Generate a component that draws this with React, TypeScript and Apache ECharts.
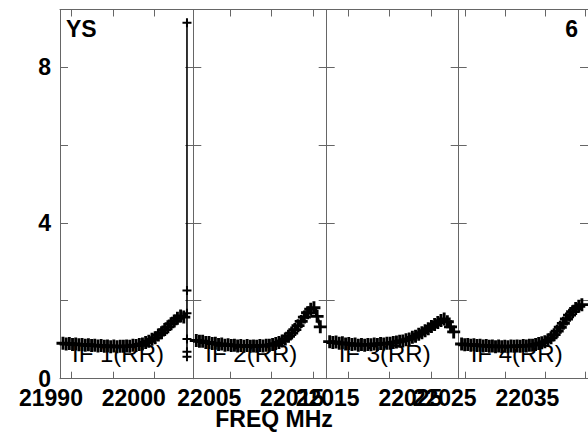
import React, { useEffect, useRef } from "react";
import * as echarts from "echarts";

// ---------- data ----------
const IF_NAMES = ["IF 1(RR)", "IF 2(RR)", "IF 3(RR)", "IF 4(RR)"];
const IF_START_MHZ = [21991.09, 22003.07, 22014.89, 22026.7];
const IF_END_MHZ = [22007.19, 22019.18, 22030.83, 22042.8];
const CHAN0_OFFSET_MHZ = 0.36;
const CHAN_WIDTH_MHZ = 0.384;

const AMP_IF1 = [
  0.91, 0.89, 0.9, 0.88, 0.89, 0.87, 0.88, 0.86, 0.87, 0.85, 0.86, 0.84, 0.85,
  0.83, 0.84, 0.82, 0.84, 0.82, 0.83, 0.83, 0.84, 0.83, 0.86, 0.85, 0.88, 0.89,
  0.93, 0.96, 1.01, 1.05, 1.12, 1.18, 1.26, 1.33, 1.41, 1.48, 1.55, 1.61, 1.58,
];
// last channel of IF 1: scattered values (edge channel)
const SPIKE_IF1 = [1.68, 9.13, 0.56, 2.26, 1.02, 0.69];
const AMP_IF2 = [
  0.98, 0.96, 0.96, 0.93, 0.93, 0.9, 0.91, 0.88, 0.89, 0.86, 0.87, 0.85, 0.86,
  0.84, 0.85, 0.83, 0.85, 0.83, 0.84, 0.83, 0.85, 0.84, 0.86, 0.86, 0.88, 0.9,
  0.93, 0.97, 1.02, 1.09, 1.17, 1.26, 1.36, 1.47, 1.58, 1.69, 1.78, 1.82, 1.6,
  1.33,
];
const AMP_IF3 = [
  0.95, 0.93, 0.94, 0.91, 0.92, 0.89, 0.9, 0.88, 0.89, 0.86, 0.88, 0.86, 0.88,
  0.87, 0.89, 0.88, 0.9, 0.89, 0.91, 0.91, 0.93, 0.94, 0.96, 0.97, 1.0, 1.02,
  1.06, 1.09, 1.14, 1.18, 1.23, 1.28, 1.34, 1.39, 1.44, 1.49, 1.53, 1.46, 1.33,
  1.2,
];
const AMP_IF4 = [
  0.89, 0.87, 0.88, 0.86, 0.87, 0.85, 0.86, 0.84, 0.85, 0.83, 0.84, 0.82, 0.84,
  0.82, 0.83, 0.82, 0.84, 0.83, 0.84, 0.83, 0.85, 0.84, 0.86, 0.86, 0.88, 0.9,
  0.92, 0.95, 0.99, 1.05, 1.13, 1.22, 1.32, 1.42, 1.53, 1.63, 1.72, 1.8, 1.86,
  1.9,
];

const X_LABELS = [
  [21990, 22000],
  [22005, 22015],
  [22015, 22025],
  [22025, 22035],
];
const X_TICKS = [
  [21992.5, 21997.5, 22002.5],
  [22007.5, 22012.5, 22017.5],
  [22017.5, 22022.5, 22027.5],
  [22027.5, 22032.5, 22037.5, 22042.5],
];
const Y_MAX = 9.47;
const Y_TICKS = [0, 2, 4, 6, 8];
const Y_LABELS = [0, 4, 8];
const SOURCE_NAME = "YS";
const PAGE_NO = "6";
const X_TITLE = "FREQ MHz";

// ---------- layout ----------
const W = 588;
const H = 432;
const PANEL_LEFT = [60, 193.3, 326.7, 458.7];
const PANEL_W = [133.3, 133.4, 132, 133.3];
const TOP = 9.5;
const PH = 369.2;
const FRAME = "#666666";
const FONT = "Liberation Sans, Arial, Helvetica, sans-serif";
const PLUS = "path://M3.5,0H5.5V3.5H9V5.5H5.5V9H3.5V5.5H0V3.5H3.5Z";

function buildOption() {
  const grid: any[] = [];
  const xAxis: any[] = [];
  const yAxis: any[] = [];
  const series: any[] = [];
  const graphic: any[] = [];
  const amps = [AMP_IF1, AMP_IF2, AMP_IF3, AMP_IF4];

  for (let p = 0; p < 4; p++) {
    const start = IF_START_MHZ[p];
    const end = IF_END_MHZ[p];
    const ppm = PANEL_W[p] / (end - start);
    const gi = grid.length;
    grid.push({ left: PANEL_LEFT[p], top: TOP, width: PANEL_W[p], height: PH, show: false });
    const lgi = grid.length;
    const [l1, l2] = X_LABELS[p];
    grid.push({
      left: PANEL_LEFT[p] + (l1 - start) * ppm,
      top: TOP,
      width: (l2 - l1) * ppm,
      height: PH,
      show: false,
    });

    const axisLine = { show: true, onZero: false, lineStyle: { color: FRAME, width: 1 } };
    const xb = xAxis.length;
    xAxis.push({
      type: "value",
      gridIndex: gi,
      position: "bottom",
      min: start,
      max: end,
      axisLine,
      axisTick: { show: true, inside: true, length: 7, customValues: X_TICKS[p], lineStyle: { color: FRAME, width: 1 } },
      axisLabel: { show: false },
      splitLine: { show: false },
    });
    xAxis.push({
      type: "value",
      gridIndex: gi,
      position: "top",
      min: start,
      max: end,
      axisLine,
      axisTick: { show: true, inside: true, length: 7, customValues: X_TICKS[p], lineStyle: { color: FRAME, width: 1 } },
      axisLabel: { show: false },
      splitLine: { show: false },
    });
    xAxis.push({
      type: "value",
      gridIndex: lgi,
      position: "bottom",
      min: l1,
      max: l2,
      interval: l2 - l1,
      axisLine: { show: false },
      axisTick: { show: false },
      splitLine: { show: false },
      axisLabel: {
        show: true,
        showMinLabel: true,
        showMaxLabel: true,
        margin: 8,
        color: "#000",
        fontFamily: FONT,
        fontWeight: "bold",
        fontSize: 23,
        formatter: (v: number) => String(v),
      },
    });

    const yl = yAxis.length;
    yAxis.push({
      type: "value",
      gridIndex: gi,
      position: "left",
      min: 0,
      max: Y_MAX,
      axisLine,
      axisTick: { show: true, inside: true, length: 8, customValues: Y_TICKS, lineStyle: { color: FRAME, width: 1 } },
      axisLabel:
        p === 0
          ? {
              show: true,
              customValues: Y_LABELS,
              margin: 9,
              color: "#000",
              fontFamily: FONT,
              fontWeight: "bold",
              fontSize: 23,
            }
          : { show: false },
      splitLine: { show: false },
    });
    yAxis.push({
      type: "value",
      gridIndex: gi,
      position: "right",
      min: 0,
      max: Y_MAX,
      axisLine,
      axisTick: { show: true, inside: true, length: 8, customValues: Y_TICKS, lineStyle: { color: FRAME, width: 1 } },
      axisLabel: { show: false },
      splitLine: { show: false },
    });
    yAxis.push({ type: "value", gridIndex: lgi, min: 0, max: 1, show: false });

    const chanFreq = (i: number) => start + CHAN0_OFFSET_MHZ + i * CHAN_WIDTH_MHZ;
    const data: number[][] = amps[p].map((v, i) => [chanFreq(i), v]);
    series.push({
      type: "line",
      name: IF_NAMES[p],
      xAxisIndex: xb,
      yAxisIndex: yl,
      data,
      symbol: PLUS,
      symbolSize: 13,
      showSymbol: true,
      showAllSymbol: true,
      itemStyle: { color: "#000" },
      lineStyle: { color: "#000", width: 3 },
      z: 3,
    });
    if (p === 0) {
      const last = amps[0].length - 1;
      const spike: number[][] = [[chanFreq(last), amps[0][last]]];
      SPIKE_IF1.forEach((v) => spike.push([chanFreq(last + 1), v]));
      series.push({
        type: "line",
        name: IF_NAMES[p] + " edge",
        xAxisIndex: xb,
        yAxisIndex: yl,
        data: spike,
        symbol: PLUS,
        symbolSize: 9,
        showSymbol: true,
        showAllSymbol: true,
        itemStyle: { color: "#000" },
        lineStyle: { color: "#000", width: 1.6 },
        z: 3,
      });
    }

    graphic.push({
      type: "text",
      x: PANEL_LEFT[p] + 12,
      y: 353,
      z: 10,
      style: {
        text: IF_NAMES[p],
        font: `24px ${FONT}`,
        fill: "#000",
        align: "left",
        verticalAlign: "middle",
        textAlign: "left",
        textVerticalAlign: "middle",
      },
    });
  }

  graphic.push({
    type: "text",
    x: 66,
    y: 29,
    style: {
      text: SOURCE_NAME,
      font: `bold 23px ${FONT}`,
      fill: "#000",
      align: "left",
      verticalAlign: "middle",
      textAlign: "left",
      textVerticalAlign: "middle",
    },
  });
  graphic.push({
    type: "text",
    x: 578,
    y: 29,
    style: {
      text: PAGE_NO,
      font: `bold 23px ${FONT}`,
      fill: "#000",
      align: "right",
      verticalAlign: "middle",
      textAlign: "right",
      textVerticalAlign: "middle",
    },
  });
  graphic.push({
    type: "text",
    x: 274,
    y: 419,
    style: {
      text: X_TITLE,
      font: `bold 23px ${FONT}`,
      fill: "#000",
      align: "center",
      verticalAlign: "middle",
      textAlign: "center",
      textVerticalAlign: "middle",
    },
  });

  return {
    animation: false,
    backgroundColor: "#ffffff",
    grid,
    xAxis,
    yAxis,
    series,
    graphic,
  };
}

export default function App() {
  const ref = useRef<HTMLDivElement>(null);
  useEffect(() => {
    if (!ref.current) return;
    const chart = echarts.init(ref.current, null, { renderer: "svg" });
    chart.setOption(buildOption() as any);
    return () => chart.dispose();
  }, []);
  return (
    <div
      ref={ref}
      style={{ position: "fixed", left: 0, top: 0, width: W, height: H, background: "#fff" }}
    />
  );
}
